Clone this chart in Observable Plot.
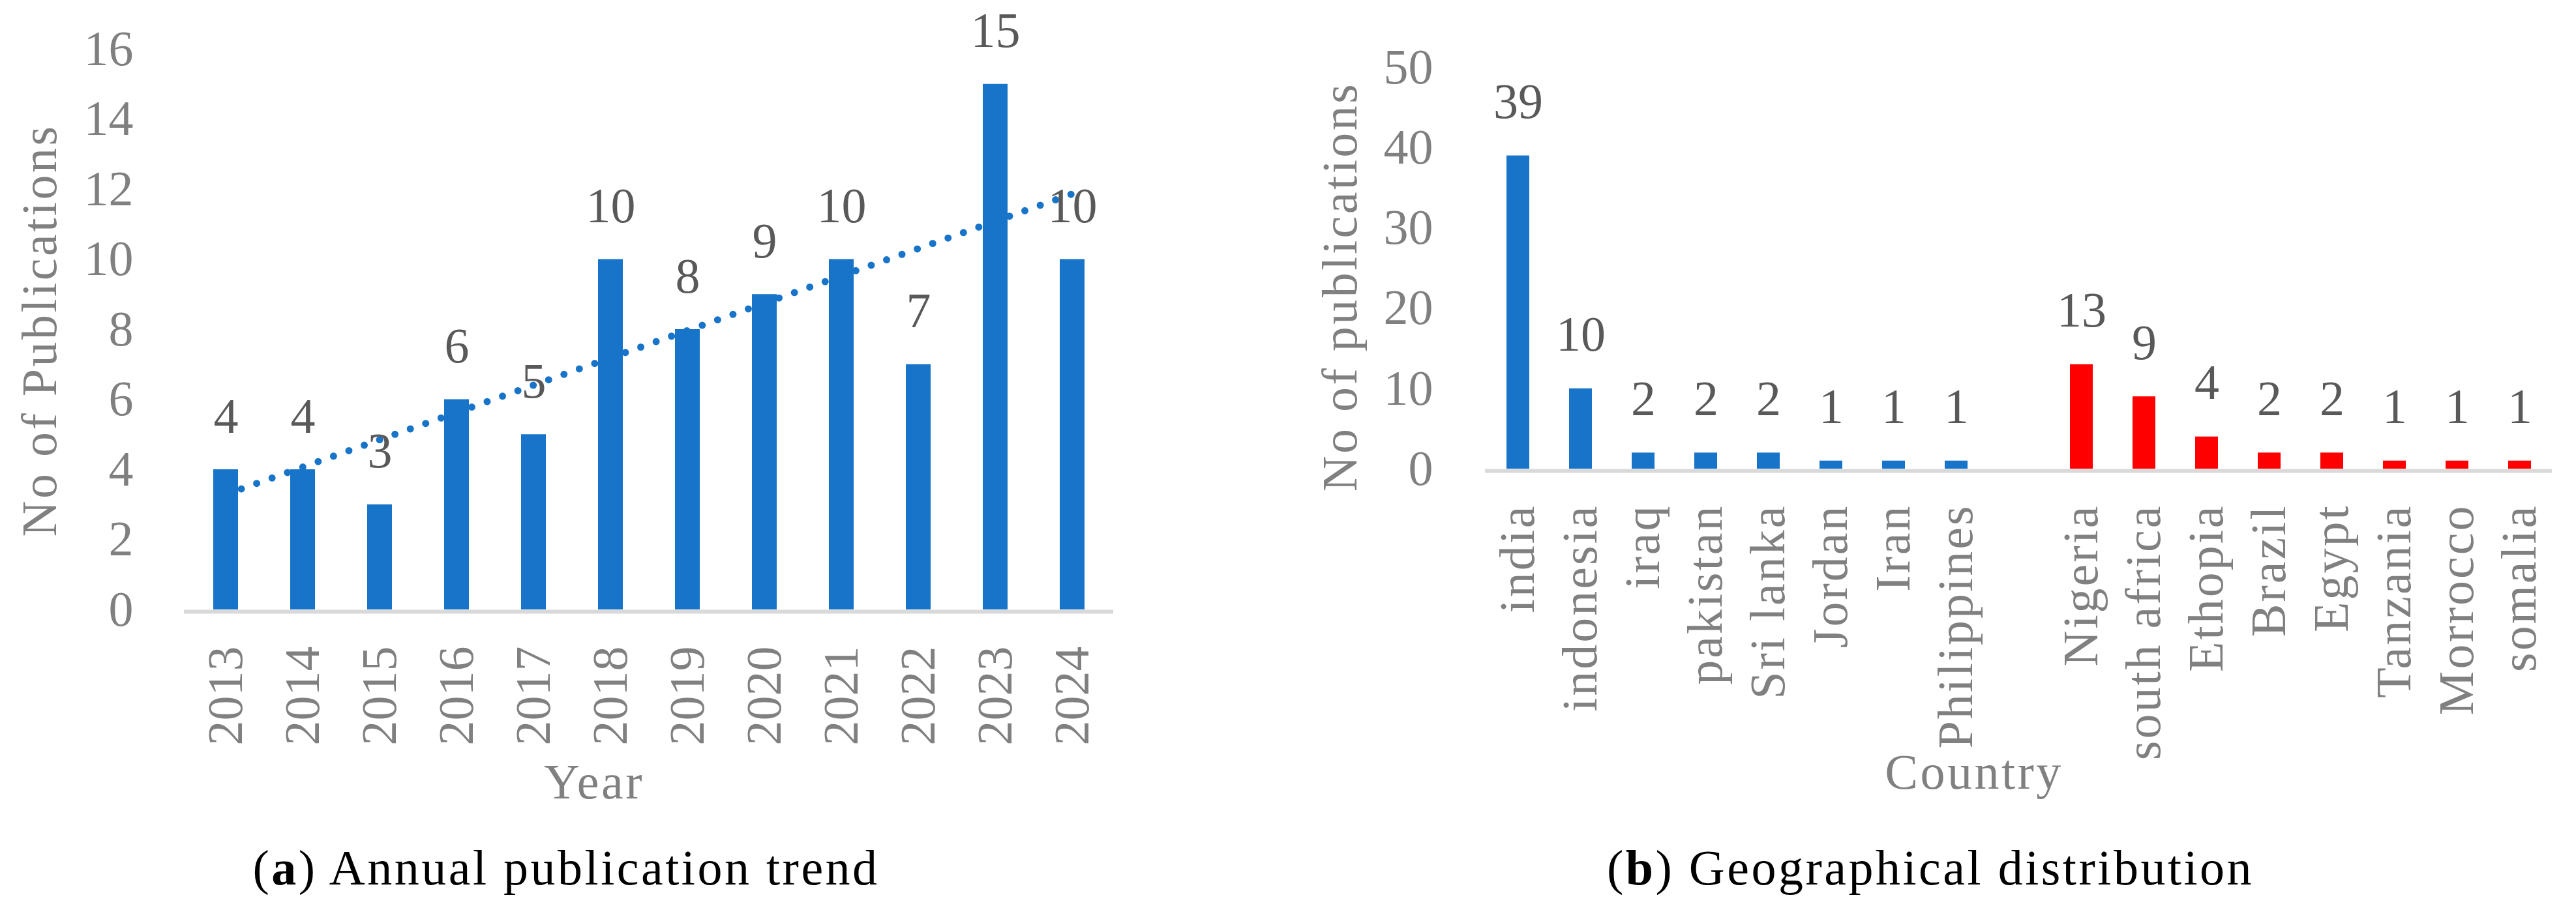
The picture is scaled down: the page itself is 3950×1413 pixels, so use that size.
<!DOCTYPE html>
<html>
<head>
<meta charset="utf-8">
<script src="https://cdn.jsdelivr.net/npm/d3@7"></script>
<script src="https://cdn.jsdelivr.net/npm/@observablehq/plot@0.6"></script>
<style>
html, body { margin: 0; padding: 0; background: #fff; }
#root { position: relative; width: 3950px; height: 1413px; overflow: hidden; font-family: "Liberation Serif", serif; background: #fff; }
.panel { position: absolute; top: 0; }
.panel svg { max-width: none !important; }
#panelB [aria-label="x-axis tick label"] { letter-spacing: 3px; }
#overlay { position: absolute; left: 0; top: 0; pointer-events: none; }
#overlay text { letter-spacing: 3.5px; }
</style>
</head>
<body>
<div id="root"></div>
<script>
// ---- Data ----
const years = ["2013","2014","2015","2016","2017","2018","2019","2020","2021","2022","2023","2024"];
const publications = [4, 4, 3, 6, 5, 10, 8, 9, 10, 7, 15, 10];
const yTicksA = [0, 2, 4, 6, 8, 10, 12, 14, 16];

const asiaCountries = ["india", "indonesia", "iraq", "pakistan", "Sri lanka", "Jordan", "Iran", "Philippines"];
const asiaValues = [39, 10, 2, 2, 2, 1, 1, 1];
const otherCountries = ["Nigeria", "south africa", "Ethopia", "Brazil", "Egypt", "Tanzania", "Morrocco", "somalia"];
const otherValues = [13, 9, 4, 2, 2, 1, 1, 1];
const yTicksB = [0, 10, 20, 30, 40, 50];

const BLUE = "#1874c8";
const RED = "#ff0000";
const AXISLINE = "#d9d9d9";
const TICKGRAY = "#808080";
const LABELGRAY = "#595959";
const FONT = '"Liberation Serif", "Times New Roman", serif';

// ---- Derived tables ----
const dataA = years.map((year, i) => ({year, value: publications[i]}));
// linear trendline (least squares fit of the data)
const xs = d3.range(years.length);
const mx = d3.mean(xs), my = d3.mean(publications);
const slope = d3.sum(xs, (x, i) => (x - mx) * (publications[i] - my)) / d3.sum(xs, x => (x - mx) ** 2);
const intercept = my - slope * mx;
const trend = years.map((year, i) => ({year, value: intercept + slope * i}));

const asiaData = asiaCountries.map((country, i) => ({country, value: asiaValues[i]}));
const otherData = otherCountries.map((country, i) => ({country, value: otherValues[i]}));
const domainB = [...asiaCountries, "", ...otherCountries];

const root = document.getElementById("root");

// ---- Panel (a) ----
const plotA = Plot.plot({
  width: 1760, height: 1150,
  marginLeft: 282, marginRight: 53, marginTop: 75, marginBottom: 215,
  style: {fontFamily: FONT, fontSize: "76px", color: TICKGRAY, background: "transparent", overflow: "visible"},
  x: {domain: years, paddingInner: 0.68, paddingOuter: 0.34},
  y: {domain: [0, 16]},
  marks: [
    Plot.axisY({ticks: yTicksA, tickSize: 0, tickPadding: 78, label: null, tickFormat: d => String(d)}),
    Plot.axisX({tickRotate: -90, tickSize: 0, tickPadding: 56, label: null}),
    Plot.ruleY([0], {stroke: AXISLINE, strokeWidth: 6, dy: 3}),
    Plot.barY(dataA, {x: "year", y: "value", fill: BLUE}),
    Plot.line(trend, {x: "year", y: "value", stroke: BLUE, strokeWidth: 11, strokeDasharray: "0,25", strokeLinecap: "round"}),
    Plot.text(dataA, {x: "year", y: "value", text: d => String(d.value), dy: -57, lineAnchor: "bottom", fill: LABELGRAY})
  ]
});
const panelA = document.createElement("div");
panelA.className = "panel";
panelA.id = "panelA";
panelA.style.left = "0px";
panelA.style.width = "1760px";
panelA.appendChild(plotA);
root.appendChild(panelA);

// ---- Panel (b) ----
const plotB = Plot.plot({
  width: 2050, height: 1160,
  marginLeft: 377, marginRight: 37, marginTop: 103, marginBottom: 441,
  style: {fontFamily: FONT, fontSize: "76px", color: TICKGRAY, background: "transparent", overflow: "visible"},
  x: {domain: domainB, paddingInner: 0.636, paddingOuter: 0.318},
  y: {domain: [0, 50]},
  marks: [
    Plot.axisY({ticks: yTicksB, tickSize: 0, tickPadding: 80, label: null, tickFormat: d => String(d)}),
    Plot.axisX({tickRotate: -90, tickSize: 0, tickPadding: 54, label: null}),
    Plot.ruleY([0], {stroke: AXISLINE, strokeWidth: 6, dy: 3}),
    Plot.barY(asiaData, {x: "country", y: "value", fill: BLUE}),
    Plot.barY(otherData, {x: "country", y: "value", fill: RED}),
    Plot.text(asiaData, {x: "country", y: "value", text: d => String(d.value), dy: -58, lineAnchor: "bottom", fill: LABELGRAY}),
    Plot.text(otherData, {x: "country", y: "value", text: d => String(d.value), dy: -58, lineAnchor: "bottom", fill: LABELGRAY})
  ]
});
const panelB = document.createElement("div");
panelB.className = "panel";
panelB.id = "panelB";
panelB.style.left = "1900px";
panelB.style.width = "2050px";
panelB.appendChild(plotB);
root.appendChild(panelB);

// ---- Titles & captions ----
const NS = "http://www.w3.org/2000/svg";
const overlay = document.createElementNS(NS, "svg");
overlay.setAttribute("id", "overlay");
overlay.setAttribute("width", 3950);
overlay.setAttribute("height", 1413);
overlay.setAttribute("font-family", FONT);
overlay.setAttribute("font-size", 76);
overlay.style.whiteSpace = "pre";
root.appendChild(overlay);

function addText(parts, x, y, {rotate = 0, fill = TICKGRAY, size = 76} = {}) {
  const t = document.createElementNS(NS, "text");
  t.setAttribute("transform", `translate(${x},${y})` + (rotate ? ` rotate(${rotate})` : ""));
  t.setAttribute("text-anchor", "middle");
  t.setAttribute("fill", fill);
  t.setAttribute("font-size", size);
  t.setAttribute("xml:space", "preserve");
  for (const p of parts) {
    const s = document.createElementNS(NS, "tspan");
    s.textContent = p.text;
    if (p.bold) s.setAttribute("font-weight", "bold");
    t.appendChild(s);
  }
  overlay.appendChild(t);
}

addText([{text: "No of  Publications"}], 86, 507, {rotate: -90});
addText([{text: "Year"}], 911, 1225);
addText([{text: "("}, {text: "a", bold: true}, {text: ") Annual publication trend"}], 868, 1357, {fill: "#000"});

addText([{text: "No of publications"}], 2080, 440, {rotate: -90});
addText([{text: "Country"}], 3027, 1210);
addText([{text: "("}, {text: "b", bold: true}, {text: ") Geographical distribution"}], 2960, 1357, {fill: "#000"});
</script>
</body>
</html>
